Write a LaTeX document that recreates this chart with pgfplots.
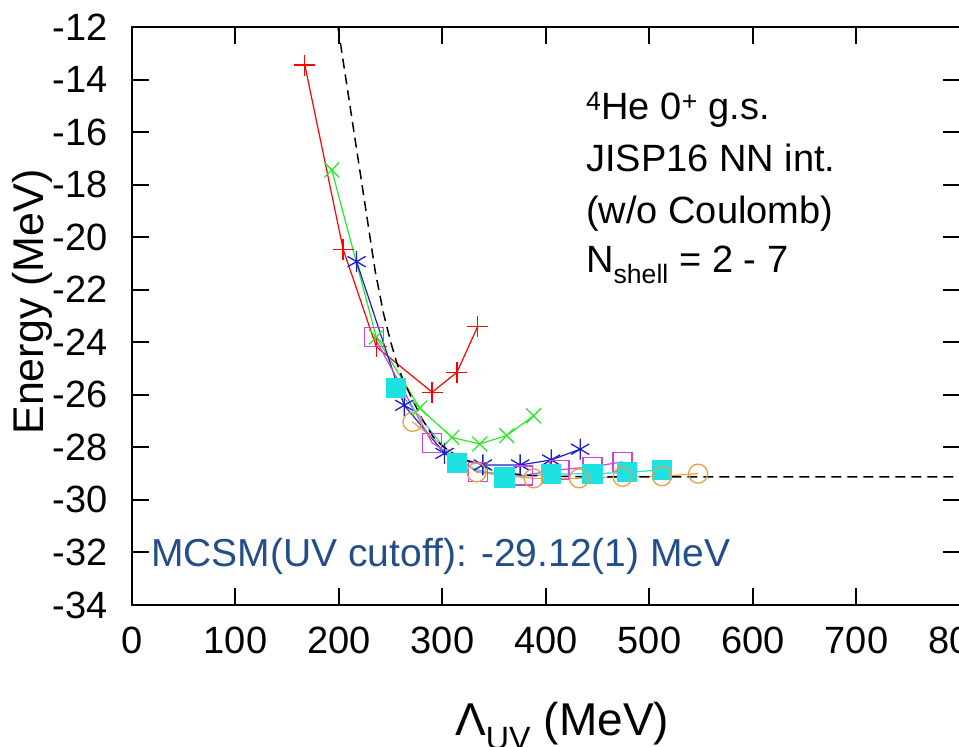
\documentclass[border=0pt]{standalone}
\usepackage{fontspec}
\setmainfont{Liberation Sans}
\usepackage{pgfplots}
\pgfplotsset{compat=1.18}
\definecolor{cred}{RGB}{255,0,0}
\definecolor{cgreen}{RGB}{40,235,40}
\definecolor{cblue}{RGB}{30,30,200}
\definecolor{cmag}{RGB}{200,70,220}
\definecolor{ccyan}{RGB}{30,225,225}
\definecolor{corange}{RGB}{230,160,70}
\definecolor{mcsm}{RGB}{35,78,135}
\begin{document}
\begin{tikzpicture}
\path[clip] (0,0) rectangle (959pt,747pt);
\path[use as bounding box] (0,0) rectangle (959pt,747pt);
\begin{axis}[
  at={(132pt,142pt)}, anchor=south west,
  scale only axis, width=828pt, height=578pt,
  xmin=0, xmax=800, ymin=-34, ymax=-12,
  xtick={0,100,...,800}, ytick={-34,-32,...,-12},
  tick align=inside, major tick length=17pt,
  axis line style={line width=2pt},
  every tick/.style={line width=2pt, black},
  /pgf/number format/assume math mode=true,
  ticklabel style={font=\fontsize{38}{38}\selectfont, inner sep=0pt},
  xticklabel style={anchor=north, yshift=-22pt},
  yticklabel style={anchor=east, xshift=-24pt},
  clip=true,
]
\addplot[cred, line width=1.2pt, mark=+, mark size=10.5pt, mark options={line width=1.3pt}] coordinates {
(167,-13.45) (204,-20.46) (236,-24.17) (290,-25.9) (314,-25.14) (334,-23.4)};
\addplot[cgreen, line width=1.2pt, mark=x, mark size=10.5pt, mark options={line width=1.3pt}] coordinates {
(193,-17.44) (236,-23.8) (278,-26.5) (309,-27.62) (336,-27.87) (362,-27.55) (388,-26.8)};
\addplot[cblue, line width=1.2pt, mark=asterisk, mark size=10.5pt, mark options={line width=1.3pt}] coordinates {
(217,-20.93) (263,-26.4) (302,-28.23) (339,-28.67) (375,-28.67) (405,-28.48) (433,-28.07)};
\addplot[cmag, line width=1.2pt, mark=square, mark size=9.5pt, mark options={line width=1.3pt}] coordinates {
(234,-23.79) (290,-27.83) (334,-28.93) (378,-29.07) (413,-28.85) (445,-28.74) (474,-28.55)};
\addplot[ccyan, line width=1.2pt, mark=square*, mark size=9.5pt, mark options={fill=ccyan, draw=ccyan}] coordinates {
(255,-25.73) (314,-28.61) (360,-29.15) (405,-29.02) (445,-29.0) (478,-28.95) (512,-28.86)};
\addplot[corange, line width=1.2pt, mark=o, mark size=9.5pt, mark options={line width=1.3pt}] coordinates {
(271,-27.03) (333,-28.95) (388,-29.18) (432,-29.18) (474,-29.12) (512,-29.1) (547,-29.0)};
\addplot[black, line width=1.5pt, dash pattern=on 10pt off 6pt, mark=none] coordinates {
(199,-12) (235,-21.3) (243,-22.9) (250,-24.0) (256,-24.8) (261,-25.35) (270,-26.1) (280,-26.9) (291,-27.6) (300,-27.95) (311,-28.25) (323,-28.5) (337,-28.7) (350,-28.87) (365,-29.0) (385,-29.07) (410,-29.1) (450,-29.12) (800,-29.12)};
\end{axis}
\begin{scope}[every node/.style={inner sep=0pt}]
\node[anchor=base west, font=\fontsize{38}{38}\selectfont] at (586pt,627pt) {\textsuperscript{4}He 0\textsuperscript{+} g.s.};
\node[anchor=base west, font=\fontsize{38}{38}\selectfont] at (586pt,575pt) {JISP16 NN int.};
\node[anchor=base west, font=\fontsize{38}{38}\selectfont] at (586pt,523pt) {(w/o Coulomb)};
\node[anchor=base west, font=\fontsize{38}{38}\selectfont] at (586pt,474pt) {N\textsubscript{shell} = 2 - 7};
\node[anchor=base west, font=\fontsize{39}{39}\selectfont, text=mcsm] at (151pt,180pt) {MCSM(UV cutoff): -29.12(1) MeV};
\node[anchor=base, rotate=90, font=\fontsize{43}{43}\selectfont] at (43pt,445pt) {Energy (MeV)};
\node[anchor=base west, font=\fontsize{46}{46}\selectfont] at (455pt,11pt) {Λ\textsubscript{UV} (MeV)};
\end{scope}
\end{tikzpicture}
\end{document}
